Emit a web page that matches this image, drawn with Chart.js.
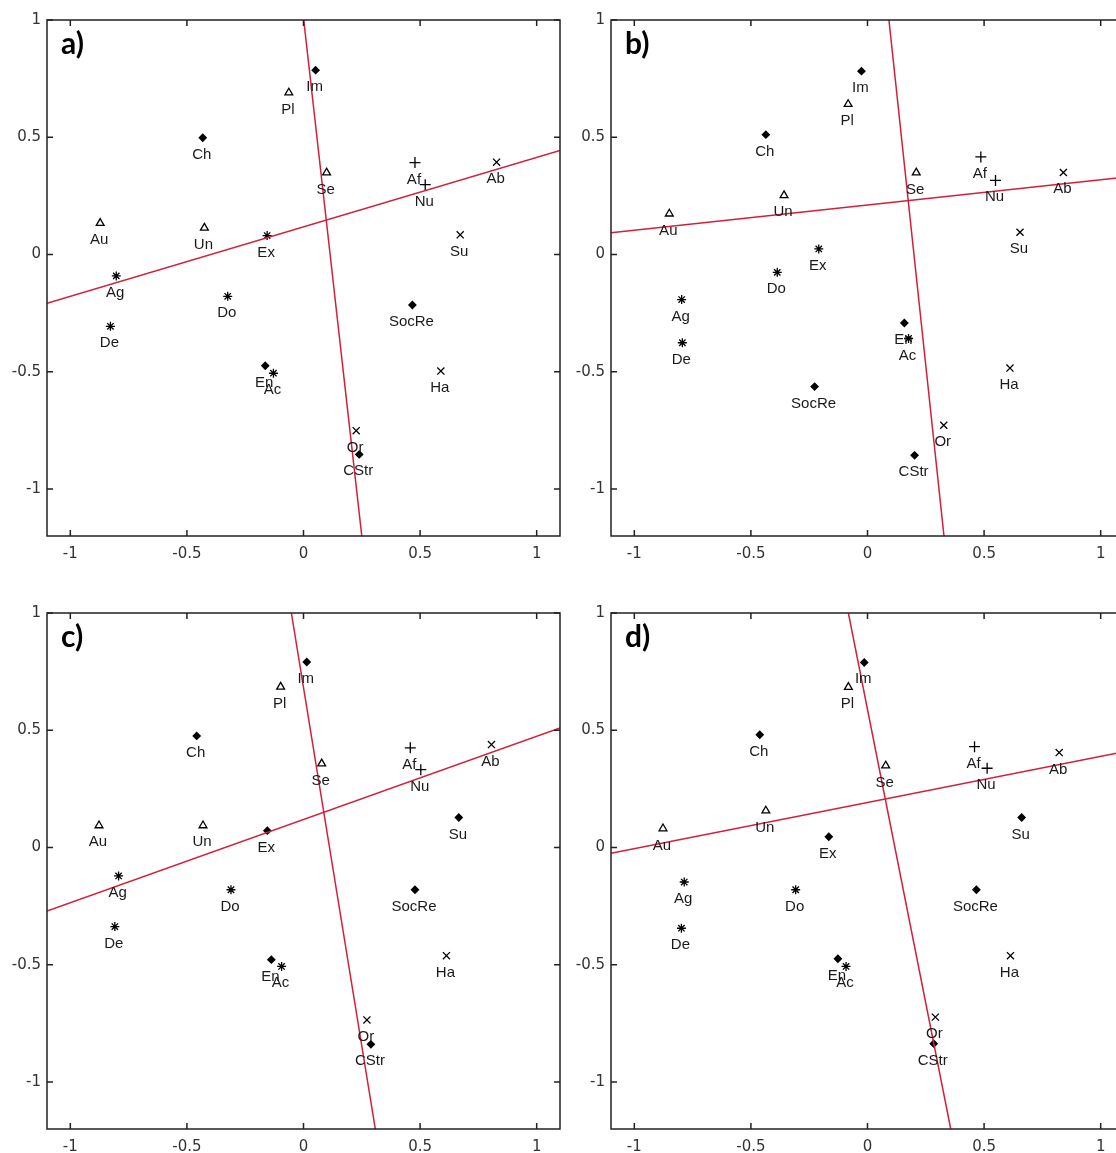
<!DOCTYPE html>
<html>
<head>
<meta charset="utf-8">
<script src="https://cdn.jsdelivr.net/npm/chart.js@4.4.0/dist/chart.umd.min.js"></script>
<style>
  html, body { margin: 0; padding: 0; background: #fff; overflow: hidden; }
  body { width: 1116px; height: 1153px; position: relative; }
  canvas { position: absolute; }
</style>
</head>
<body>
<canvas id="pa" width="580" height="570" style="left:0px;top:0px"></canvas>
<canvas id="pb" width="580" height="570" style="left:564px;top:0px"></canvas>
<canvas id="pc" width="580" height="570" style="left:0px;top:593px"></canvas>
<canvas id="pd" width="580" height="570" style="left:564px;top:593px"></canvas>
<script>
// variable names, same order in every panel
var names = ["Au", "Un", "Pl", "Se", "Im", "Ch", "SocRe", "En", "CStr", "Ex",
             "Su", "Ag", "Do", "De", "Ac", "Af", "Nu", "Ab", "Ha", "Or"];

// marker groups (tri = triangle, dia = filled diamond, ast = asterisk, plus, x)
var markersAB = ["tri", "tri", "tri", "tri", "dia", "dia", "dia", "dia", "dia", "ast",
                 "x", "ast", "ast", "ast", "ast", "plus", "plus", "x", "x", "x"];
var markersCD = ["tri", "tri", "tri", "tri", "dia", "dia", "dia", "dia", "dia", "dia",
                 "dia", "ast", "ast", "ast", "ast", "plus", "plus", "x", "x", "x"];

// panel a)
var xA = [-0.872, -0.425, -0.063, 0.099, 0.052, -0.432, 0.467, -0.164, 0.239, -0.156,
          0.672, -0.803, -0.325, -0.828, -0.129, 0.478, 0.522, 0.828, 0.589, 0.226];
var yA = [0.134, 0.114, 0.690, 0.349, 0.786, 0.498, -0.215, -0.474, -0.852, 0.081,
          0.084, -0.091, -0.178, -0.306, -0.506, 0.392, 0.298, 0.394, -0.497, -0.751];
// panel b)
var xB = [-0.850, -0.358, -0.083, 0.209, -0.026, -0.436, -0.227, 0.158, 0.202, -0.209,
          0.654, -0.797, -0.387, -0.794, 0.176, 0.486, 0.549, 0.840, 0.611, 0.327];
var yB = [0.174, 0.252, 0.641, 0.349, 0.782, 0.511, -0.563, -0.292, -0.856, 0.024,
          0.095, -0.192, -0.076, -0.376, -0.358, 0.416, 0.316, 0.350, -0.484, -0.728];
// panel c)
var xC = [-0.877, -0.431, -0.098, 0.078, 0.014, -0.458, 0.478, -0.138, 0.289, -0.155,
          0.666, -0.793, -0.311, -0.809, -0.094, 0.458, 0.503, 0.806, 0.613, 0.272];
var yC = [0.094, 0.094, 0.685, 0.358, 0.791, 0.476, -0.180, -0.478, -0.839, 0.072,
          0.128, -0.121, -0.180, -0.337, -0.507, 0.425, 0.332, 0.439, -0.461, -0.735];
// panel d)
var xD = [-0.877, -0.436, -0.082, 0.078, -0.014, -0.462, 0.467, -0.127, 0.284, -0.166,
          0.661, -0.786, -0.308, -0.798, -0.092, 0.459, 0.513, 0.822, 0.613, 0.291];
var yD = [0.081, 0.157, 0.684, 0.349, 0.789, 0.481, -0.180, -0.474, -0.836, 0.046,
          0.128, -0.147, -0.180, -0.344, -0.507, 0.430, 0.338, 0.405, -0.461, -0.723];

// red axes lines: [x1, y1, x2, y2]
var linesA = [[-1.1, -0.208, 1.1, 0.444], [0.001, 1.0, 0.250, -1.2]];
var linesB = [[-1.1, 0.093, 1.1, 0.330], [0.092, 1.0, 0.328, -1.2]];
var linesC = [[-1.1, -0.271, 1.1, 0.510], [-0.052, 1.0, 0.308, -1.2]];
var linesD = [[-1.1, -0.024, 1.1, 0.408], [-0.082, 1.0, 0.357, -1.2]];

var tickVals = [-1, -0.5, 0, 0.5, 1];

var styleMap = { tri: "triangle", dia: "rectRot", ast: "star", plus: "cross", x: "crossRot" };
var radiusMap = { tri: 4.5, dia: 3.5, ast: 4.5, plus: 5.5, x: 5 };
var fillMap = { tri: "#fff", dia: "#000", ast: "#000", plus: "#000", x: "#000" };

// draws the names under each point
var pointLabels = {
  id: "pointLabels",
  afterDatasetsDraw: function (chart) {
    var ctx = chart.ctx;
    chart.data.datasets.forEach(function (ds, i) {
      if (!ds.names) return;
      var meta = chart.getDatasetMeta(i);
      ctx.save();
      ctx.font = "15px 'Liberation Sans', Arial, sans-serif";
      ctx.fillStyle = "#1a1a1a";
      ctx.textAlign = "center";
      ctx.textBaseline = "alphabetic";
      meta.data.forEach(function (pt, j) {
        ctx.fillText(ds.names[j], pt.x - 1, pt.y + 21);
      });
      ctx.restore();
    });
  }
};

// box, inward ticks on all four sides, and the panel letter
var frame = {
  id: "frame",
  afterDraw: function (chart) {
    var ctx = chart.ctx;
    var a = chart.chartArea;
    var xs = chart.scales.x, ys = chart.scales.y;
    ctx.save();
    ctx.strokeStyle = "#222";
    ctx.lineWidth = 1.5;
    ctx.strokeRect(a.left, a.top, a.right - a.left, a.bottom - a.top);
    ctx.beginPath();
    tickVals.forEach(function (v) {
      var px = xs.getPixelForValue(v);
      ctx.moveTo(px, a.bottom); ctx.lineTo(px, a.bottom - 6);
      ctx.moveTo(px, a.top); ctx.lineTo(px, a.top + 6);
      var py = ys.getPixelForValue(v);
      ctx.moveTo(a.left, py); ctx.lineTo(a.left + 6, py);
      ctx.moveTo(a.right, py); ctx.lineTo(a.right - 6, py);
    });
    ctx.stroke();
    ctx.fillStyle = "#000";
    ctx.font = "bold 30px Lato, 'Open Sans', sans-serif";
    ctx.textAlign = "left";
    ctx.textBaseline = "alphabetic";
    ctx.fillText(chart.options.plugins.panelTag, a.left + 14, a.top + 34);
    ctx.restore();
  }
};

function makePanel(id, tag, xs, ys, markers, lines) {
  var pts = xs.map(function (x, i) { return { x: x, y: ys[i] }; });
  var datasets = lines.map(function (l) {
    return {
      data: [{ x: l[0], y: l[1] }, { x: l[2], y: l[3] }],
      showLine: true,
      borderColor: "#d0203c",
      borderWidth: 1.5,
      pointRadius: 0
    };
  });
  datasets.push({
    data: pts,
    names: names,
    pointStyle: markers.map(function (m) { return styleMap[m]; }),
    pointRadius: markers.map(function (m) { return radiusMap[m]; }),
    pointBackgroundColor: markers.map(function (m) { return fillMap[m]; }),
    pointBorderColor: "#000",
    pointBorderWidth: 1.3,
    pointHoverRadius: 0
  });

  var tickFont = { family: "'DejaVu Sans', Arial, sans-serif", size: 15 };
  new Chart(document.getElementById(id), {
    type: "scatter",
    data: { datasets: datasets },
    options: {
      responsive: false,
      animation: false,
      layout: { padding: { left: 0, top: 20, right: 20, bottom: 0 } },
      plugins: { legend: { display: false }, tooltip: { enabled: false }, panelTag: tag },
      scales: {
        x: {
          min: -1.1, max: 1.1,
          afterBuildTicks: function (s) { s.ticks = tickVals.map(function (v) { return { value: v }; }); },
          afterFit: function (s) { s.height = 34; },
          grid: { display: false, drawTicks: false },
          border: { display: false },
          ticks: { color: "#333", font: tickFont, padding: 9, maxRotation: 0,
                   callback: function (v) { return String(v); } }
        },
        y: {
          min: -1.2, max: 1,
          afterBuildTicks: function (s) { s.ticks = tickVals.map(function (v) { return { value: v }; }); },
          afterFit: function (s) { s.width = 47; },
          grid: { display: false, drawTicks: false },
          border: { display: false },
          ticks: { color: "#333", font: tickFont, padding: 6,
                   callback: function (v) { return String(v); } }
        }
      }
    },
    plugins: [pointLabels, frame]
  });
}

makePanel("pa", "a)", xA, yA, markersAB, linesA);
makePanel("pb", "b)", xB, yB, markersAB, linesB);
makePanel("pc", "c)", xC, yC, markersCD, linesC);
makePanel("pd", "d)", xD, yD, markersCD, linesD);
</script>
</body>
</html>
